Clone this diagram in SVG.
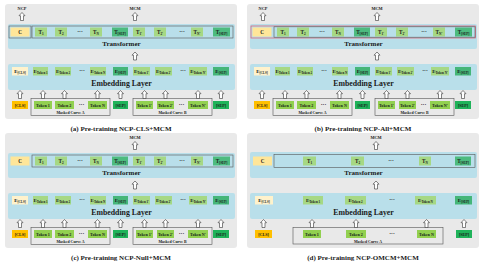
<svg xmlns="http://www.w3.org/2000/svg" xmlns:xlink="http://www.w3.org/1999/xlink" width="485" height="263" viewBox="0 0 485 263">
<style>
text{font-family:"Liberation Serif","Times New Roman",serif;font-weight:bold;fill:#1a1a1a;text-anchor:middle}
.bg{fill:#E9E9E9}
.blue{fill:#B9DFEA}
.c{fill:#FFE699}
.ec{fill:#FFF2CC}
.tg{fill:#A6D884}
.ts{fill:#4DBB7F}
.es{fill:#45B679}
.in{fill:#92D050}
.cls{fill:#FFC000}
.sep{fill:#1FB35A}
.ol{fill:none;stroke:#555;stroke-width:0.6}
.red{fill:none;stroke:#E2566C;stroke-width:0.7}
.arr{fill:#fff;stroke:#333;stroke-width:0.6}
.t{font-size:5.2px}
.s{font-size:3.3px}
.e{font-size:5px}
.es2{font-size:3.2px}
.k{font-size:4.1px}
.d{font-size:5.5px}
.lab{font-size:4.3px}
.big{font-size:7px}
.big2{font-size:7.8px}
.cap{font-size:7px}
.mc{font-size:3.9px}
</style>
<defs>
<path id="ar" class="arr" d="M0,0 L3,3.2 L1.5,3.2 L1.5,8 L-1.5,8 L-1.5,3.2 L-3,3.2 Z"/>
</defs>

<!-- ================= Panel (a) ================= -->
<g id="panel-a">
<rect class="bg" x="5" y="4" width="232" height="115" rx="3"/>
<g id="a-transformer"><rect class="blue" x="8" y="24" width="227" height="25" rx="2"/><text class="big" x="121.5" y="45.8">Transformer</text></g>
<g id="a-embedding"><rect class="blue" x="8" y="64" width="227" height="26" rx="2"/><text class="big2" x="121.5" y="86.3">Embedding Layer</text></g>
<g id="a-ncp-label"><text class="lab" x="22" y="9.5">NCP</text></g>
<g id="a-mcm-label"><text class="lab" x="135" y="9.5">MCM</text></g>
<g id="a-outline-c"><rect class="ol" x="9" y="26" width="22" height="12"/></g>
<g id="a-outline-t"><rect class="ol" x="32" y="26" width="201" height="12"/></g>
<g id="a-C"><rect class="c" x="10.5" y="27.5" width="19" height="9"/><text class="t" x="20" y="34">C</text></g>
<g id="a-T1"><rect class="tg" x="35" y="27.5" width="12" height="9"/><text class="t" x="41" y="34">T<tspan class="s" dy="0.8">1</tspan></text></g>
<g id="a-T2"><rect class="tg" x="55" y="27.5" width="12" height="9"/><text class="t" x="61" y="34">T<tspan class="s" dy="0.8">2</tspan></text></g>
<g id="a-Tdots"><text class="d" x="80" y="33.5">···</text></g>
<g id="a-TN"><rect class="tg" x="90" y="27.5" width="12" height="9"/><text class="t" x="96" y="34">T<tspan class="s" dy="0.8">N</tspan></text></g>
<g id="a-TSEP"><rect class="ts" x="112" y="27.5" width="16" height="9"/><text class="t" x="120" y="34">T<tspan class="s" dy="0.8">[SEP]</tspan></text></g>
<g id="a-T1p"><rect class="tg" x="133" y="27.5" width="12" height="9"/><text class="t" x="139" y="34">T<tspan class="s" dy="0.8">1'</tspan></text></g>
<g id="a-T2p"><rect class="tg" x="154" y="27.5" width="12" height="9"/><text class="t" x="160" y="34">T<tspan class="s" dy="0.8">2'</tspan></text></g>
<g id="a-Tdots2"><text class="d" x="182" y="33.5">···</text></g>
<g id="a-TNp"><rect class="tg" x="191" y="27.5" width="12" height="9"/><text class="t" x="197" y="34">T<tspan class="s" dy="0.8">N'</tspan></text></g>
<g id="a-TSEP2"><rect class="ts" x="213" y="27.5" width="17" height="9"/><text class="t" x="221.5" y="34">T<tspan class="s" dy="0.8">[SEP]</tspan></text></g>

<g id="a-ECLS"><rect class="ec" x="12" y="67" width="16" height="8.5"/><text class="e" x="20" y="73.3">E<tspan class="es2" dy="0.6">[CLS]</tspan></text></g>
<g id="a-ET1"><rect class="tg" x="33" y="67" width="15" height="8.5"/><text class="e" x="40.5" y="73.3">E<tspan class="es2" dy="0.6">Token 1</tspan></text></g>
<g id="a-ET2"><rect class="tg" x="55" y="67" width="16" height="8.5"/><text class="e" x="63" y="73.3">E<tspan class="es2" dy="0.6">Token 2</tspan></text></g>
<g id="a-Edots"><text class="d" x="82" y="73">···</text></g>
<g id="a-ETN"><rect class="tg" x="90" y="67" width="16" height="8.5"/><text class="e" x="98" y="73.3">E<tspan class="es2" dy="0.6">Token N</tspan></text></g>
<g id="a-ESEP"><rect class="es" x="113" y="67" width="15" height="8.5"/><text class="e" x="120.5" y="73.3">E<tspan class="es2" dy="0.6">[SEP]</tspan></text></g>
<g id="a-ET1p"><rect class="tg" x="133" y="67" width="17" height="8.5"/><text class="e" x="141.5" y="73.3">E<tspan class="es2" dy="0.6">Token 1'</tspan></text></g>
<g id="a-ET2p"><rect class="tg" x="155" y="67" width="17" height="8.5"/><text class="e" x="163.5" y="73.3">E<tspan class="es2" dy="0.6">Token 2'</tspan></text></g>
<g id="a-Edots2"><text class="d" x="183" y="73">···</text></g>
<g id="a-ETNp"><rect class="tg" x="189" y="67" width="18" height="8.5"/><text class="e" x="198" y="73.3">E<tspan class="es2" dy="0.6">Token N'</tspan></text></g>
<g id="a-ESEP2"><rect class="es" x="213" y="67" width="16" height="8.5"/><text class="e" x="221" y="73.3">E<tspan class="es2" dy="0.6">[SEP]</tspan></text></g>

<g id="a-maskA"><rect class="ol" x="31" y="98.5" width="79" height="17"/><text class="mc" x="70.5" y="114.3">Masked Curve A</text></g>
<g id="a-maskB"><rect class="ol" x="133" y="98.5" width="79" height="17"/><text class="mc" x="172.5" y="114.3">Masked Curve B</text></g>
<g id="a-CLS"><rect class="cls" x="12" y="101" width="16" height="8"/><text class="k" x="20" y="106.5">[CLS]</text></g>
<g id="a-Tok1"><rect class="in" x="34" y="101" width="18" height="8"/><text class="k" x="43" y="106.5">Token 1</text></g>
<g id="a-Tok2"><rect class="in" x="55" y="101" width="19" height="8"/><text class="k" x="64.5" y="106.5">Token 2</text></g>
<g id="a-Idots"><text class="d" x="81.5" y="106.5">···</text></g>
<g id="a-TokN"><rect class="in" x="88" y="101" width="19" height="8"/><text class="k" x="97.5" y="106.5">Token N</text></g>
<g id="a-SEP"><rect class="sep" x="113" y="101" width="15" height="8"/><text class="k" x="120.5" y="106.5">[SEP]</text></g>
<g id="a-Tok1p"><rect class="in" x="136" y="101" width="17" height="8"/><text class="k" x="144.5" y="106.5">Token 1'</text></g>
<g id="a-Tok2p"><rect class="in" x="157" y="101" width="17" height="8"/><text class="k" x="165.5" y="106.5">Token 2'</text></g>
<g id="a-Idots2"><text class="d" x="181.5" y="106.5">···</text></g>
<g id="a-TokNp"><rect class="in" x="188" y="101" width="20" height="8"/><text class="k" x="198" y="106.5">Token N'</text></g>
<g id="a-SEP2"><rect class="sep" x="213" y="101" width="16" height="8"/><text class="k" x="221" y="106.5">[SEP]</text></g>
<g id="a-connectors">
<use href="#ar" x="22" y="12.5"/><use href="#ar" x="135" y="12.5"/><use href="#ar" x="135" y="52"/>
<use href="#ar" x="20" y="90.5"/><use href="#ar" x="43" y="90.5"/><use href="#ar" x="64.5" y="90.5"/><use href="#ar" x="97.5" y="90.5"/><use href="#ar" x="120.5" y="90.5"/><use href="#ar" x="144.5" y="90.5"/><use href="#ar" x="165.5" y="90.5"/><use href="#ar" x="198" y="90.5"/><use href="#ar" x="221" y="90.5"/>
</g>
<text class="cap" x="121" y="131">(a) Pre-training NCP-CLS+MCM</text>
</g>

<!-- ================= Panel (b) ================= -->
<g id="panel-b" transform="translate(242,0)">
<rect class="bg" x="5" y="4" width="232" height="115" rx="3"/>
<g id="b-transformer"><rect class="blue" x="8" y="24" width="227" height="25" rx="2"/><text class="big" x="121.5" y="45.8">Transformer</text></g>
<g id="b-embedding"><rect class="blue" x="8" y="64" width="227" height="26" rx="2"/><text class="big2" x="121.5" y="86.3">Embedding Layer</text></g>
<g id="b-ncp-label"><text class="lab" x="21" y="9.5">NCP</text></g>
<g id="b-mcm-label"><text class="lab" x="135" y="9.5">MCM</text></g>
<g id="b-C"><rect class="c" x="10.5" y="27.5" width="19" height="9"/><text class="t" x="20" y="34">C</text></g>
<g id="b-T1"><rect class="tg" x="35" y="27.5" width="12" height="9"/><text class="t" x="41" y="34">T<tspan class="s" dy="0.8">1</tspan></text></g>
<g id="b-T2"><rect class="tg" x="55" y="27.5" width="12" height="9"/><text class="t" x="61" y="34">T<tspan class="s" dy="0.8">2</tspan></text></g>
<g id="b-Tdots"><text class="d" x="80" y="33.5">···</text></g>
<g id="b-TN"><rect class="tg" x="90" y="27.5" width="12" height="9"/><text class="t" x="96" y="34">T<tspan class="s" dy="0.8">N</tspan></text></g>
<g id="b-TSEP"><rect class="ts" x="112" y="27.5" width="16" height="9"/><text class="t" x="120" y="34">T<tspan class="s" dy="0.8">[SEP]</tspan></text></g>
<g id="b-T1p"><rect class="tg" x="133" y="27.5" width="12" height="9"/><text class="t" x="139" y="34">T<tspan class="s" dy="0.8">1'</tspan></text></g>
<g id="b-T2p"><rect class="tg" x="154" y="27.5" width="12" height="9"/><text class="t" x="160" y="34">T<tspan class="s" dy="0.8">2'</tspan></text></g>
<g id="b-Tdots2"><text class="d" x="182" y="33.5">···</text></g>
<g id="b-TNp"><rect class="tg" x="191" y="27.5" width="12" height="9"/><text class="t" x="197" y="34">T<tspan class="s" dy="0.8">N'</tspan></text></g>
<g id="b-TSEP2"><rect class="ts" x="213" y="27.5" width="17" height="9"/><text class="t" x="221.5" y="34">T<tspan class="s" dy="0.8">[SEP]</tspan></text></g>
<g id="b-outline-all"><rect class="red" x="9" y="26" width="224.5" height="12"/></g>
<g id="b-outline-t"><rect class="ol" x="32" y="26.8" width="201" height="10.4"/></g>

<g id="b-ECLS"><rect class="ec" x="12" y="67" width="16" height="8.5"/><text class="e" x="20" y="73.3">E<tspan class="es2" dy="0.6">[CLS]</tspan></text></g>
<g id="b-ET1"><rect class="tg" x="33" y="67" width="15" height="8.5"/><text class="e" x="40.5" y="73.3">E<tspan class="es2" dy="0.6">Token 1</tspan></text></g>
<g id="b-ET2"><rect class="tg" x="55" y="67" width="16" height="8.5"/><text class="e" x="63" y="73.3">E<tspan class="es2" dy="0.6">Token 2</tspan></text></g>
<g id="b-Edots"><text class="d" x="82" y="73">···</text></g>
<g id="b-ETN"><rect class="tg" x="90" y="67" width="16" height="8.5"/><text class="e" x="98" y="73.3">E<tspan class="es2" dy="0.6">Token N</tspan></text></g>
<g id="b-ESEP"><rect class="es" x="113" y="67" width="15" height="8.5"/><text class="e" x="120.5" y="73.3">E<tspan class="es2" dy="0.6">[SEP]</tspan></text></g>
<g id="b-ET1p"><rect class="tg" x="133" y="67" width="17" height="8.5"/><text class="e" x="141.5" y="73.3">E<tspan class="es2" dy="0.6">Token 1'</tspan></text></g>
<g id="b-ET2p"><rect class="tg" x="155" y="67" width="17" height="8.5"/><text class="e" x="163.5" y="73.3">E<tspan class="es2" dy="0.6">Token 2'</tspan></text></g>
<g id="b-Edots2"><text class="d" x="183" y="73">···</text></g>
<g id="b-ETNp"><rect class="tg" x="189" y="67" width="18" height="8.5"/><text class="e" x="198" y="73.3">E<tspan class="es2" dy="0.6">Token N'</tspan></text></g>
<g id="b-ESEP2"><rect class="es" x="213" y="67" width="16" height="8.5"/><text class="e" x="221" y="73.3">E<tspan class="es2" dy="0.6">[SEP]</tspan></text></g>

<g id="b-maskA"><rect class="ol" x="31" y="98.5" width="79" height="17"/><text class="mc" x="70.5" y="114.3">Masked Curve A</text></g>
<g id="b-maskB"><rect class="ol" x="133" y="98.5" width="79" height="17"/><text class="mc" x="172.5" y="114.3">Masked Curve B</text></g>
<g id="b-CLS"><rect class="cls" x="12" y="101" width="16" height="8"/><text class="k" x="20" y="106.5">[CLS]</text></g>
<g id="b-Tok1"><rect class="in" x="34" y="101" width="18" height="8"/><text class="k" x="43" y="106.5">Token 1</text></g>
<g id="b-Tok2"><rect class="in" x="55" y="101" width="19" height="8"/><text class="k" x="64.5" y="106.5">Token 2</text></g>
<g id="b-Idots"><text class="d" x="81.5" y="106.5">···</text></g>
<g id="b-TokN"><rect class="in" x="88" y="101" width="19" height="8"/><text class="k" x="97.5" y="106.5">Token N</text></g>
<g id="b-SEP"><rect class="sep" x="113" y="101" width="15" height="8"/><text class="k" x="120.5" y="106.5">[SEP]</text></g>
<g id="b-Tok1p"><rect class="in" x="136" y="101" width="17" height="8"/><text class="k" x="144.5" y="106.5">Token 1'</text></g>
<g id="b-Tok2p"><rect class="in" x="157" y="101" width="17" height="8"/><text class="k" x="165.5" y="106.5">Token 2'</text></g>
<g id="b-Idots2"><text class="d" x="181.5" y="106.5">···</text></g>
<g id="b-TokNp"><rect class="in" x="188" y="101" width="20" height="8"/><text class="k" x="198" y="106.5">Token N'</text></g>
<g id="b-SEP2"><rect class="sep" x="213" y="101" width="16" height="8"/><text class="k" x="221" y="106.5">[SEP]</text></g>
<g id="b-connectors">
<use href="#ar" x="21" y="12.5"/><use href="#ar" x="135" y="12.5"/><use href="#ar" x="135" y="52"/>
<use href="#ar" x="20" y="90.5"/><use href="#ar" x="43" y="90.5"/><use href="#ar" x="64.5" y="90.5"/><use href="#ar" x="97.5" y="90.5"/><use href="#ar" x="120.5" y="90.5"/><use href="#ar" x="144.5" y="90.5"/><use href="#ar" x="165.5" y="90.5"/><use href="#ar" x="198" y="90.5"/><use href="#ar" x="221" y="90.5"/>
</g>
<text class="cap" x="121" y="131">(b) Pre-training NCP-All+MCM</text>
</g>

<!-- ================= Panel (c) ================= -->
<g id="panel-c" transform="translate(0,129)">
<rect class="bg" x="5" y="4" width="232" height="115" rx="3"/>
<g id="c-transformer"><rect class="blue" x="8" y="24" width="227" height="25" rx="2"/><text class="big" x="121.5" y="45.8">Transformer</text></g>
<g id="c-embedding"><rect class="blue" x="8" y="64" width="227" height="26" rx="2"/><text class="big2" x="121.5" y="86.3">Embedding Layer</text></g>
<g id="c-mcm-label"><text class="lab" x="135" y="9.5">MCM</text></g>
<g id="c-outline-t"><rect class="ol" x="32" y="26" width="201" height="12"/></g>
<g id="c-C"><rect class="c" x="10.5" y="27.5" width="19" height="9"/><text class="t" x="20" y="34">C</text></g>
<g id="c-T1"><rect class="tg" x="35" y="27.5" width="12" height="9"/><text class="t" x="41" y="34">T<tspan class="s" dy="0.8">1</tspan></text></g>
<g id="c-T2"><rect class="tg" x="55" y="27.5" width="12" height="9"/><text class="t" x="61" y="34">T<tspan class="s" dy="0.8">2</tspan></text></g>
<g id="c-Tdots"><text class="d" x="80" y="33.5">···</text></g>
<g id="c-TN"><rect class="tg" x="90" y="27.5" width="12" height="9"/><text class="t" x="96" y="34">T<tspan class="s" dy="0.8">N</tspan></text></g>
<g id="c-TSEP"><rect class="ts" x="112" y="27.5" width="16" height="9"/><text class="t" x="120" y="34">T<tspan class="s" dy="0.8">[SEP]</tspan></text></g>
<g id="c-T1p"><rect class="tg" x="133" y="27.5" width="12" height="9"/><text class="t" x="139" y="34">T<tspan class="s" dy="0.8">1'</tspan></text></g>
<g id="c-T2p"><rect class="tg" x="154" y="27.5" width="12" height="9"/><text class="t" x="160" y="34">T<tspan class="s" dy="0.8">2'</tspan></text></g>
<g id="c-Tdots2"><text class="d" x="182" y="33.5">···</text></g>
<g id="c-TNp"><rect class="tg" x="191" y="27.5" width="12" height="9"/><text class="t" x="197" y="34">T<tspan class="s" dy="0.8">N'</tspan></text></g>
<g id="c-TSEP2"><rect class="ts" x="213" y="27.5" width="17" height="9"/><text class="t" x="221.5" y="34">T<tspan class="s" dy="0.8">[SEP]</tspan></text></g>

<g id="c-ECLS"><rect class="ec" x="12" y="67" width="16" height="8.5"/><text class="e" x="20" y="73.3">E<tspan class="es2" dy="0.6">[CLS]</tspan></text></g>
<g id="c-ET1"><rect class="tg" x="33" y="67" width="15" height="8.5"/><text class="e" x="40.5" y="73.3">E<tspan class="es2" dy="0.6">Token 1</tspan></text></g>
<g id="c-ET2"><rect class="tg" x="55" y="67" width="16" height="8.5"/><text class="e" x="63" y="73.3">E<tspan class="es2" dy="0.6">Token 2</tspan></text></g>
<g id="c-Edots"><text class="d" x="82" y="73">···</text></g>
<g id="c-ETN"><rect class="tg" x="90" y="67" width="16" height="8.5"/><text class="e" x="98" y="73.3">E<tspan class="es2" dy="0.6">Token N</tspan></text></g>
<g id="c-ESEP"><rect class="es" x="113" y="67" width="15" height="8.5"/><text class="e" x="120.5" y="73.3">E<tspan class="es2" dy="0.6">[SEP]</tspan></text></g>
<g id="c-ET1p"><rect class="tg" x="133" y="67" width="17" height="8.5"/><text class="e" x="141.5" y="73.3">E<tspan class="es2" dy="0.6">Token 1'</tspan></text></g>
<g id="c-ET2p"><rect class="tg" x="155" y="67" width="17" height="8.5"/><text class="e" x="163.5" y="73.3">E<tspan class="es2" dy="0.6">Token 2'</tspan></text></g>
<g id="c-Edots2"><text class="d" x="183" y="73">···</text></g>
<g id="c-ETNp"><rect class="tg" x="189" y="67" width="18" height="8.5"/><text class="e" x="198" y="73.3">E<tspan class="es2" dy="0.6">Token N'</tspan></text></g>
<g id="c-ESEP2"><rect class="es" x="213" y="67" width="16" height="8.5"/><text class="e" x="221" y="73.3">E<tspan class="es2" dy="0.6">[SEP]</tspan></text></g>

<g id="c-maskA"><rect class="ol" x="31" y="98.5" width="79" height="17"/><text class="mc" x="70.5" y="114.3">Masked Curve A</text></g>
<g id="c-maskB"><rect class="ol" x="133" y="98.5" width="79" height="17"/><text class="mc" x="172.5" y="114.3">Masked Curve B</text></g>
<g id="c-CLS"><rect class="cls" x="12" y="101" width="16" height="8"/><text class="k" x="20" y="106.5">[CLS]</text></g>
<g id="c-Tok1"><rect class="in" x="34" y="101" width="18" height="8"/><text class="k" x="43" y="106.5">Token 1</text></g>
<g id="c-Tok2"><rect class="in" x="55" y="101" width="19" height="8"/><text class="k" x="64.5" y="106.5">Token 2</text></g>
<g id="c-Idots"><text class="d" x="81.5" y="106.5">···</text></g>
<g id="c-TokN"><rect class="in" x="88" y="101" width="19" height="8"/><text class="k" x="97.5" y="106.5">Token N</text></g>
<g id="c-SEP"><rect class="sep" x="113" y="101" width="15" height="8"/><text class="k" x="120.5" y="106.5">[SEP]</text></g>
<g id="c-Tok1p"><rect class="in" x="136" y="101" width="17" height="8"/><text class="k" x="144.5" y="106.5">Token 1'</text></g>
<g id="c-Tok2p"><rect class="in" x="157" y="101" width="17" height="8"/><text class="k" x="165.5" y="106.5">Token 2'</text></g>
<g id="c-Idots2"><text class="d" x="181.5" y="106.5">···</text></g>
<g id="c-TokNp"><rect class="in" x="188" y="101" width="20" height="8"/><text class="k" x="198" y="106.5">Token N'</text></g>
<g id="c-SEP2"><rect class="sep" x="213" y="101" width="16" height="8"/><text class="k" x="221" y="106.5">[SEP]</text></g>
<g id="c-connectors">
<use href="#ar" x="135" y="12.5"/><use href="#ar" x="135" y="52"/>
<use href="#ar" x="20" y="90.5"/><use href="#ar" x="43" y="90.5"/><use href="#ar" x="64.5" y="90.5"/><use href="#ar" x="97.5" y="90.5"/><use href="#ar" x="120.5" y="90.5"/><use href="#ar" x="144.5" y="90.5"/><use href="#ar" x="165.5" y="90.5"/><use href="#ar" x="198" y="90.5"/><use href="#ar" x="221" y="90.5"/>
</g>
<text class="cap" x="121" y="131">(c) Pre-training NCP-Null+MCM</text>
</g>

<!-- ================= Panel (d) ================= -->
<g id="panel-d" transform="translate(242,129)">
<rect class="bg" x="5" y="4" width="232" height="115" rx="3"/>
<g id="d-transformer"><rect class="blue" x="8" y="23" width="227" height="26" rx="2"/><text class="big" x="121.5" y="45.8">Transformer</text></g>
<g id="d-embedding"><rect class="blue" x="8" y="64" width="227" height="26" rx="2"/><text class="big2" x="121.5" y="86.3">Embedding Layer</text></g>
<g id="d-mcm-label"><text class="lab" x="134" y="9.5">MCM</text></g>
<g id="d-outline-t"><rect class="ol" x="32" y="25.5" width="201" height="13"/></g>
<g id="d-C"><rect class="c" x="11" y="27.5" width="19" height="9"/><text class="t" x="20.5" y="34">C</text></g>
<g id="d-T1"><rect class="tg" x="61" y="27.5" width="13" height="9"/><text class="t" x="67.5" y="34">T<tspan class="s" dy="0.8">1</tspan></text></g>
<g id="d-T2"><rect class="tg" x="109" y="27.5" width="13" height="9"/><text class="t" x="115.5" y="34">T<tspan class="s" dy="0.8">2</tspan></text></g>
<g id="d-Tdots"><text class="d" x="149" y="33.5">···</text></g>
<g id="d-TN"><rect class="tg" x="177" y="27.5" width="12" height="9"/><text class="t" x="183" y="34">T<tspan class="s" dy="0.8">N</tspan></text></g>
<g id="d-TSEP"><rect class="ts" x="213" y="27.5" width="16" height="9"/><text class="t" x="221" y="34">T<tspan class="s" dy="0.8">[SEP]</tspan></text></g>

<g id="d-ECLS"><rect class="ec" x="13" y="67" width="18" height="8.5"/><text class="e" x="22" y="73.3">E<tspan class="es2" dy="0.6">[CLS]</tspan></text></g>
<g id="d-ET1"><rect class="tg" x="61" y="67" width="20" height="8.5"/><text class="e" x="71" y="73.3">E<tspan class="es2" dy="0.6">Token 1</tspan></text></g>
<g id="d-ET2"><rect class="tg" x="103" y="67" width="21" height="8.5"/><text class="e" x="113.5" y="73.3">E<tspan class="es2" dy="0.6">Token 2</tspan></text></g>
<g id="d-Edots"><text class="d" x="150" y="73">···</text></g>
<g id="d-ETN"><rect class="tg" x="173" y="67" width="21" height="8.5"/><text class="e" x="183.5" y="73.3">E<tspan class="es2" dy="0.6">Token N</tspan></text></g>
<g id="d-ESEP"><rect class="es" x="213" y="67" width="17" height="8.5"/><text class="e" x="221.5" y="73.3">E<tspan class="es2" dy="0.6">[SEP]</tspan></text></g>

<g id="d-maskA"><rect class="ol" x="51" y="98.5" width="150" height="16.5"/><text class="mc" x="126" y="113.8">Masked Curve A</text></g>
<g id="d-CLS"><rect class="cls" x="13" y="101" width="17" height="8"/><text class="k" x="21.5" y="106.5">[CLS]</text></g>
<g id="d-Tok1"><rect class="in" x="61" y="101" width="18" height="8"/><text class="k" x="70" y="106.5">Token 1</text></g>
<g id="d-Tok2"><rect class="in" x="104" y="101" width="20" height="8"/><text class="k" x="114" y="106.5">Token 2</text></g>
<g id="d-Idots"><text class="d" x="150" y="106.5">···</text></g>
<g id="d-TokN"><rect class="in" x="175" y="101" width="19" height="8"/><text class="k" x="184.5" y="106.5">Token N</text></g>
<g id="d-SEP"><rect class="sep" x="214" y="101" width="16" height="8"/><text class="k" x="222" y="106.5">[SEP]</text></g>
<g id="d-connectors">
<use href="#ar" x="134" y="12.5"/><use href="#ar" x="134" y="52"/>
<use href="#ar" x="21.5" y="90.5"/><use href="#ar" x="70" y="90.5"/><use href="#ar" x="114" y="90.5"/><use href="#ar" x="184.5" y="90.5"/><use href="#ar" x="222" y="90.5"/>
</g>
<text class="cap" x="121" y="131">(d) Pre-training NCP-OMCM+MCM</text>
</g>
</svg>
